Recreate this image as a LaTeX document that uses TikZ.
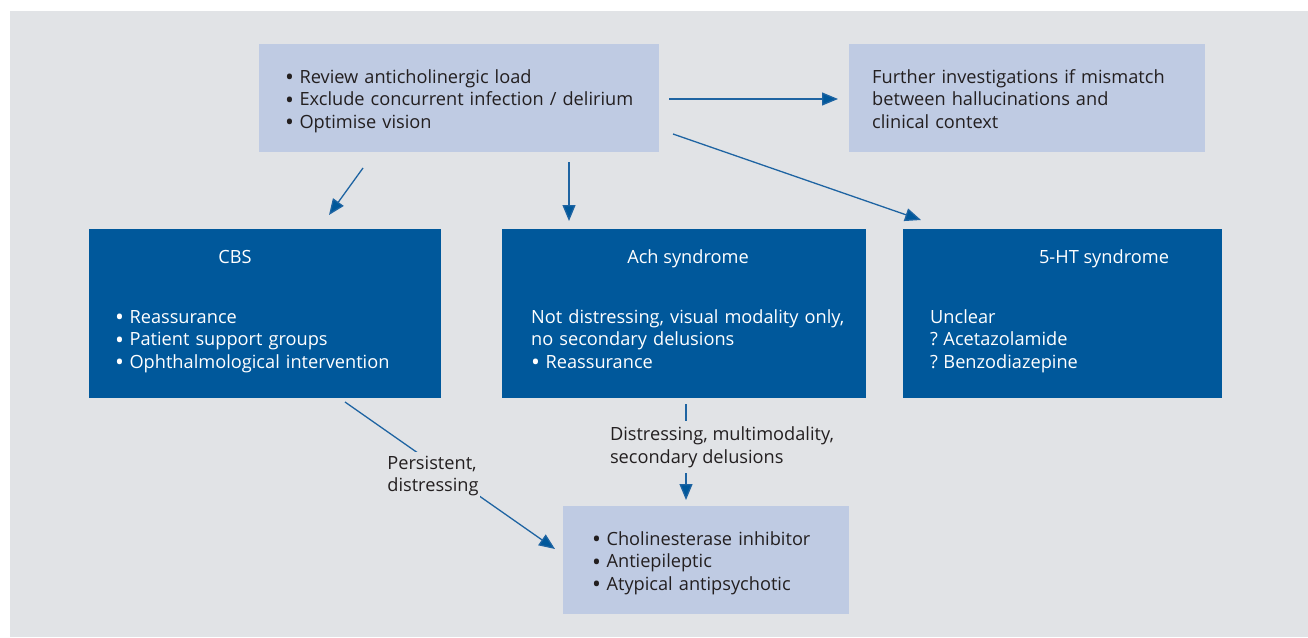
\documentclass[tikz,border=0pt]{standalone}
\usepackage{fontspec}
\usepackage{graphicx}
\setmainfont{Open Sans}
\usetikzlibrary{arrows.meta}
\definecolor{bggrey}{HTML}{E1E3E6}
\definecolor{lightbox}{HTML}{BFCBE3}
\definecolor{darkbox}{HTML}{00589B}
\definecolor{txt}{HTML}{231F20}
\definecolor{arrowc}{HTML}{1E64A2}
\newcommand\bul{\raisebox{-0.13em}{\scalebox{1.3}{\textbullet}}\hspace{0.3em}}
\newcommand\qm{?\hspace{0.3em}}
\tikzset{
  lbox/.style={fill=lightbox, draw=none, inner sep=0pt, anchor=north west},
  dbox/.style={fill=darkbox, draw=none, inner sep=0pt, anchor=north west},
  btext/.style={anchor=base west, inner sep=0pt, text width=#1, align=left, text=txt,
    font=\fontsize{18.2}{22.7}\selectfont},
  btext/.default=380pt,
  wtext/.style={btext=#1, text=white},
  wtext/.default=380pt,
  wtitle/.style={anchor=base, inner sep=0pt, text=white, font=\fontsize{18.2}{22.7}\selectfont},
  lbl/.style={fill=bggrey, inner xsep=1pt, inner ysep=#1, align=left, text=txt,
    font=\fontsize{18.2}{22.7}\selectfont},
  arr/.style={draw=arrowc, line width=1.3pt, -{Triangle[length=16pt,width=13pt,fill=darkbox]}}
}
\begin{document}
\begin{tikzpicture}[x=1pt,y=-1pt]
\useasboundingbox (0,0) rectangle (1308,637);
\fill[bggrey] (10,11) rectangle (1308,637);

% boxes
\node[lbox, minimum width=400pt, minimum height=108pt] (top) at (259,44) {};
\node[lbox, minimum width=356pt, minimum height=108pt] (fur) at (849,44) {};
\node[dbox, minimum width=352pt, minimum height=169pt] (cbs) at (89,229) {};
\node[dbox, minimum width=364pt, minimum height=169pt] (ach) at (502,229) {};
\node[dbox, minimum width=319pt, minimum height=169pt] (ht) at (903,229) {};
\node[lbox, minimum width=286pt, minimum height=108pt] (bot) at (563,506) {};

% texts
\node[btext] (toptxt) at (285,83) {\bul Review anticholinergic load\\\bul Exclude concurrent infection / delirium\\\bul Optimise vision};
\node[btext] (furtxt) at (872,83) {Further investigations if mismatch\\between hallucinations and\\clinical context};
\node[wtitle] (cbst) at (235,263) {CBS};
\node[wtext] (cbstxt) at (115,323) {\bul Reassurance\\\bul Patient support groups\\\bul Ophthalmological intervention};
\node[wtitle] (acht) at (688,263) {Ach syndrome};
\node[wtext] (achtxt) at (531,323) {Not distressing, visual modality only,\\no secondary delusions\\\bul Reassurance};
\node[wtitle] (htt) at (1104,263) {5-HT syndrome};
\node[wtext] (httxt) at (930,323) {Unclear\\\qm Acetazolamide\\\qm Benzodiazepine};
\node[btext] (bottxt) at (592,545) {\bul Cholinesterase inhibitor\\\bul Antiepileptic\\\bul Atypical antipsychotic};

% connectors
\coordinate (a1s) at (669,99);  \coordinate (a1e) at (838,99);
\coordinate (a2s) at (363,168); \coordinate (a2e) at (329,215);
\coordinate (a3s) at (569,162); \coordinate (a3e) at (569,221);
\coordinate (a4s) at (673,134); \coordinate (a4e) at (921,220);
\coordinate (a5s) at (345,402); \coordinate (a5e) at (555,549);
\coordinate (a6s) at (686,404); \coordinate (a6e) at (686,500);

\draw[arr] (a1s) -- (a1e);
\draw[arr] (a2s) -- (a2e);
\draw[arr] (a3s) -- (a3e);
\draw[arr] (a4s) -- (a4e);
\draw[arr] (a5s) -- (a5e);
\draw[arr] (a6s) -- (a6e);

\node[lbl=4pt] (l1) at (433,476) {Persistent,\\distressing};
\node[lbl=6pt] (l2) at (722,447) {Distressing, multimodality,\\secondary delusions};
\end{tikzpicture}
\end{document}
